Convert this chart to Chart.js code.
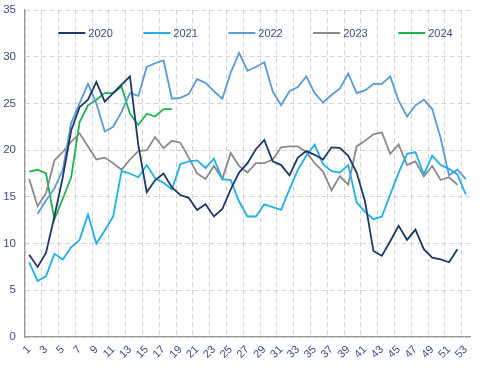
<!DOCTYPE html>
<html><head><meta charset="utf-8">
<script src="https://cdn.jsdelivr.net/npm/chart.js@4"></script>
<style>html,body{margin:0;padding:0;background:#fff}#wrap{width:483px;height:369px;position:relative}</style>
</head><body><div id="wrap"><canvas id="c"></canvas></div>
<script>
const weeks = ['1','2','3','4','5','6','7','8','9','10','11','12','13','14','15','16','17','18','19','20','21','22','23','24','25','26','27','28','29','30','31','32','33','34','35','36','37','38','39','40','41','42','43','44','45','46','47','48','49','50','51','52','53'];
const yTicks = [0,5,10,15,20,25,30,35];
const seriesNames = ['2020','2021','2022','2023','2024'];
const y2020 = [8.8,7.5,9.0,12.9,17.1,22.1,24.6,25.4,27.3,25.2,26.1,27.0,27.9,20.5,15.5,16.8,17.5,16.0,15.2,14.9,13.6,14.2,12.9,13.7,15.8,17.6,18.6,20.1,21.1,18.8,18.4,17.3,19.2,19.9,19.5,19.0,20.3,20.25,19.4,17.6,14.5,9.2,8.7,10.25,11.9,10.4,11.5,9.4,8.5,8.3,8.0,9.4];
const y2021 = [8.0,6.0,6.5,8.9,8.3,9.6,10.4,13.1,10.0,11.4,12.9,17.75,17.5,17.1,18.4,17.0,16.5,15.8,18.5,18.8,18.9,18.1,19.1,16.9,16.8,14.5,12.9,12.9,14.2,13.9,13.6,15.8,17.9,19.4,20.6,18.5,17.75,17.6,18.4,14.4,13.4,12.6,12.9,15.25,17.6,19.6,19.8,17.4,19.4,18.4,18.0,17.4,15.25];
const y2022 = [null,13.2,14.6,15.9,17.9,22.9,25.0,27.1,25.0,22.0,22.5,24.1,26.1,25.8,28.9,29.3,29.6,25.5,25.6,26.0,27.6,27.2,26.3,25.5,28.3,30.4,28.5,28.9,29.4,26.3,24.8,26.3,26.75,27.9,26.1,25.1,25.9,26.6,28.2,26.1,26.4,27.1,27.1,27.9,25.3,23.6,24.8,25.4,24.4,21.3,17.3,17.9,16.9];
const y2023 = [16.9,14.0,15.4,18.9,19.8,20.9,21.8,20.4,19.0,19.2,18.6,17.9,19.0,19.9,20.0,21.4,20.2,21.0,20.8,19.2,17.5,16.9,18.3,16.9,19.7,18.3,17.6,18.6,18.6,19.0,20.3,20.4,20.4,19.8,18.6,17.7,15.7,17.2,16.3,20.4,21.0,21.7,21.9,19.6,20.6,18.4,18.8,17.2,18.3,16.8,17.1,16.3];
const y2024 = [17.7,17.9,17.5,12.6,14.8,17.1,23.0,24.8,25.4,26.1,26.1,26.8,23.9,22.7,23.9,23.6,24.4,24.4];

const colors = ['#1f3868','#1eb0ea','#5b9bd5','#8a8a8a','#1db350'];
const allSeries = [y2020,y2021,y2022,y2023,y2024];
const textColor = '#3d4f80';
const gridColor = '#d4d4d4';
const fontFam = '"Liberation Sans",Arial,sans-serif';

const datasets = allSeries.map((d,i)=>({
  label: seriesNames[i], data: d, borderColor: colors[i], backgroundColor: colors[i],
  borderWidth: 1.8, pointRadius: 0, tension: 0, fill: false
}));

// legend drawn inside the plot area, in one row, from the dataset labels
const insideLegend = {
  id: 'insideLegend',
  afterDraw(chart){
    const {ctx, chartArea} = chart;
    const box = 27, gap = 3, pad = 30.5;
    ctx.save();
    ctx.font = '11px ' + fontFam;
    ctx.textBaseline = 'middle';
    ctx.textAlign = 'left';
    const items = chart.data.datasets.map(ds => ({
      label: ds.label, color: ds.borderColor,
      tw: ctx.measureText(ds.label).width
    }));
    const total = items.reduce((s,it)=>s + box + gap + it.tw, 0) + pad*(items.length-1);
    let x = chartArea.left + (chartArea.width - total)/2 + 8;
    const y = chartArea.top + 23;
    items.forEach(it => {
      ctx.strokeStyle = it.color; ctx.lineWidth = 2;
      ctx.beginPath(); ctx.moveTo(x, y); ctx.lineTo(x + box, y); ctx.stroke();
      ctx.fillStyle = textColor;
      ctx.fillText(it.label, x + box + gap, y + 0.5);
      x += box + gap + it.tw + pad;
    });
    ctx.restore();
  }
};

new Chart(document.getElementById('c'), {
  type: 'line',
  data: { labels: weeks, datasets },
  plugins: [insideLegend],
  options: {
    responsive: true, maintainAspectRatio: false, animation: false,
    layout: { padding: { top: 10, right: 13, left: 0, bottom: 0 } },
    plugins: {
      tooltip: { enabled: false },
      legend: { display: false }
    },
    scales: {
      x: {
        type: 'category', offset: true,
        grid: {
          offset: true, drawTicks: false,
          color: ctx => (ctx.index % 2 === 0 ? gridColor : 'rgba(0,0,0,0)')
        },
        border: { display: true, color: '#9a9a9a', width: 1.3, dash: [5,3] },
        ticks: {
          autoSkip: false, minRotation: 45, maxRotation: 45, padding: 6,
          color: textColor, font: { family: fontFam, size: 11 },
          callback(v, i){ return i % 2 === 0 ? weeks[i] : ''; }
        },
        afterFit(s){ s.height = 32; s.paddingLeft = 0; s.paddingRight = 0; }
      },
      y: {
        min: 0, max: 35,
        afterBuildTicks(s){ s.ticks = yTicks.map(v=>({value:v})); },
        grid: { drawTicks: false, color: gridColor },
        border: { display: true, color: '#9a9a9a', width: 1.3, dash: [5,3] },
        ticks: { padding: 9, color: textColor, font: { family: fontFam, size: 11.5 } },
        afterFit(s){ s.width = 25; s.paddingTop = 0; s.paddingBottom = 0; }
      }
    }
  }
});
</script></body></html>
